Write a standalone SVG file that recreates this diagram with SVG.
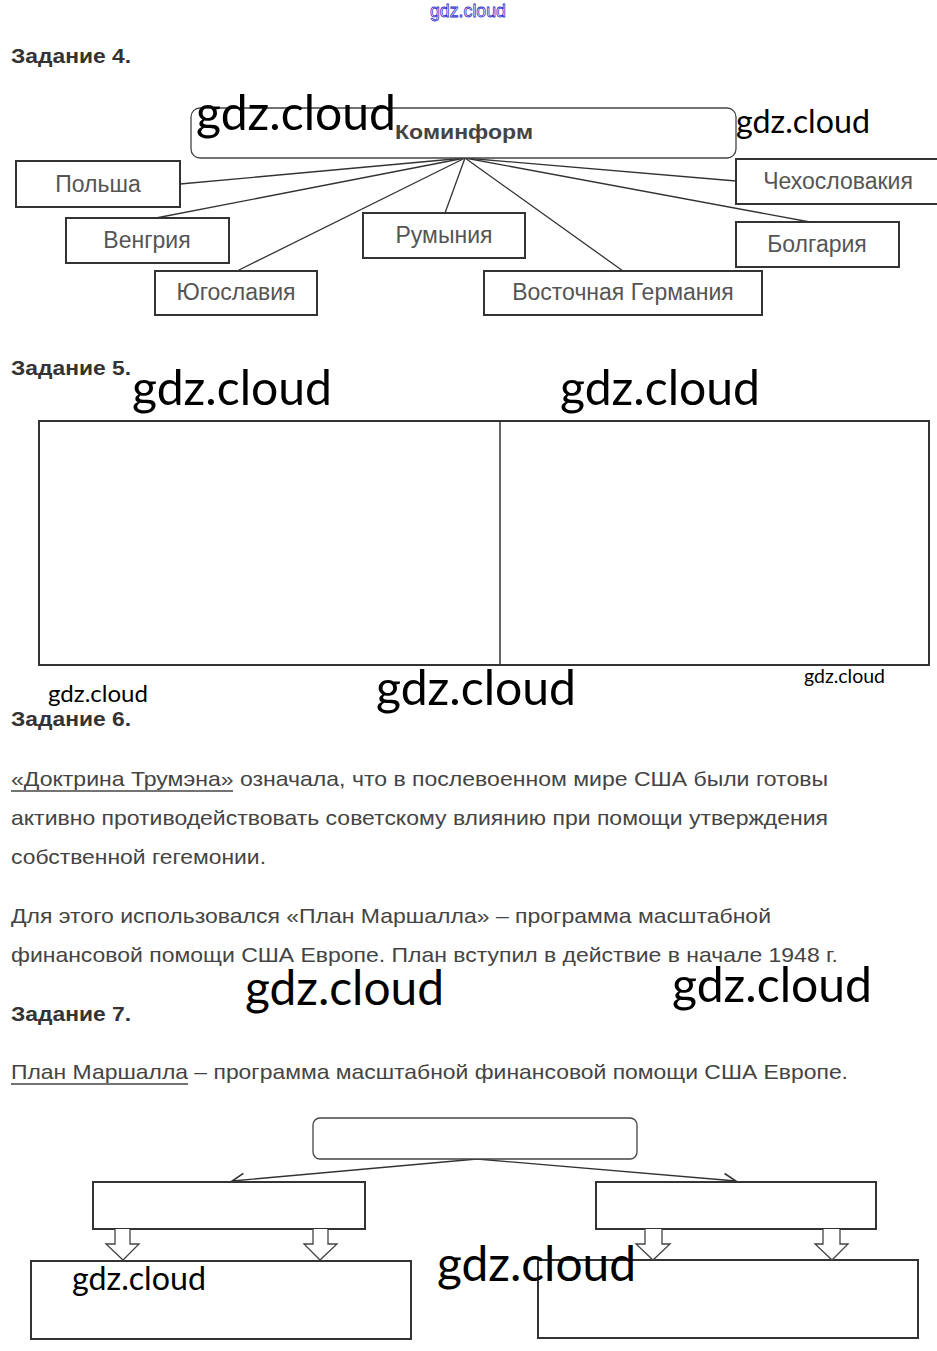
<svg xmlns="http://www.w3.org/2000/svg" width="937" height="1351" viewBox="0 0 937 1351">
<style>
.h{font-family:"Liberation Sans",Arial,sans-serif;font-weight:bold;font-size:20px;fill:#333}
.t{font-family:"Liberation Sans",Arial,sans-serif;font-size:21px;fill:#444}
.lb{font-family:"Liberation Sans",Arial,sans-serif;font-size:23px;fill:#555;text-anchor:middle}
.wm{font-family:Lato,"DejaVu Sans",sans-serif;fill:#000}
.box{fill:#fff;stroke:#333;stroke-width:2}
.ln{stroke:#333;stroke-width:1.3;fill:none}
.ba{fill:#fff;stroke:#444;stroke-width:1.3}
</style>
<defs>
<marker id="oa" markerWidth="16" markerHeight="16" refX="13" refY="8" orient="auto" markerUnits="userSpaceOnUse">
<path d="M1,1.5 L13,8 L1,14.5" fill="none" stroke="#333" stroke-width="1.6"/>
</marker>
</defs>
<rect width="937" height="1351" fill="#fff"/>
<text x="468" y="17" text-anchor="middle" font-family="Liberation Sans,Arial,sans-serif" font-size="18" fill="#fff" stroke="#3333cc" stroke-width="0.8" textLength="76" lengthAdjust="spacingAndGlyphs">gdz.cloud</text>

<text class="h" x="11" y="63" textLength="120" lengthAdjust="spacingAndGlyphs">Задание 4.</text>

<g id="connectors">
<line class="ln" x1="465" y1="158" x2="180" y2="184"/>
<line class="ln" x1="465" y1="158" x2="156" y2="218"/>
<line class="ln" x1="465" y1="158" x2="237" y2="271"/>
<line class="ln" x1="465" y1="158" x2="445" y2="213"/>
<line class="ln" x1="465" y1="158" x2="623" y2="271"/>
<line class="ln" x1="465" y1="158" x2="736" y2="181"/>
<line class="ln" x1="465" y1="158" x2="810" y2="222"/>
<line class="ln" x1="477" y1="1159" x2="232" y2="1181" marker-end="url(#oa)"/>
<line class="ln" x1="477" y1="1159" x2="736" y2="1181" marker-end="url(#oa)"/>
</g>

<g id="kominform">
<rect x="191" y="108" width="545" height="50" rx="9" fill="#fff" stroke="#444" stroke-width="1.3"/>
<text x="464" y="139" text-anchor="middle" font-family="Liberation Sans,Arial,sans-serif" font-weight="bold" font-size="20" fill="#444" textLength="138" lengthAdjust="spacingAndGlyphs">Коминформ</text>
</g>
<g id="polsha"><rect class="box" x="16" y="161" width="164" height="46"/><text class="lb" x="98" y="192">Польша</text></g>
<g id="vengriya"><rect class="box" x="66" y="218" width="163" height="45"/><text class="lb" x="147" y="248">Венгрия</text></g>
<g id="yugoslaviya"><rect class="box" x="155" y="271" width="162" height="44"/><text class="lb" x="236" y="300">Югославия</text></g>
<g id="rumyniya"><rect class="box" x="363" y="213" width="162" height="45"/><text class="lb" x="444" y="243">Румыния</text></g>
<g id="vost-germaniya"><rect class="box" x="484" y="271" width="278" height="44"/><text class="lb" x="623" y="300">Восточная Германия</text></g>
<g id="chehoslovakiya"><rect class="box" x="736" y="159" width="205" height="45"/><text class="lb" x="838" y="189">Чехословакия</text></g>
<g id="bolgariya"><rect class="box" x="736" y="222" width="163" height="45"/><text class="lb" x="817" y="252">Болгария</text></g>

<text class="wm" x="196" y="130" font-size="48" textLength="200" lengthAdjust="spacingAndGlyphs">gdz.cloud</text>
<text class="wm" x="736" y="133" font-size="32" textLength="134" lengthAdjust="spacingAndGlyphs">gdz.cloud</text>

<text class="h" x="11" y="375" textLength="120" lengthAdjust="spacingAndGlyphs">Задание 5.</text>
<text class="wm" x="132" y="405" font-size="48" textLength="200" lengthAdjust="spacingAndGlyphs">gdz.cloud</text>
<text class="wm" x="560" y="405" font-size="48" textLength="200" lengthAdjust="spacingAndGlyphs">gdz.cloud</text>

<g id="table5">
<rect x="39" y="421" width="890" height="244" fill="none" stroke="#333" stroke-width="2"/>
<line x1="500" y1="421" x2="500" y2="665" stroke="#333" stroke-width="1.5"/>
</g>

<text class="wm" x="48" y="702" font-size="24" textLength="100" lengthAdjust="spacingAndGlyphs">gdz.cloud</text>
<text class="wm" x="376" y="705" font-size="48" textLength="200" lengthAdjust="spacingAndGlyphs">gdz.cloud</text>
<text class="wm" x="804" y="683" font-size="19" textLength="81" lengthAdjust="spacingAndGlyphs">gdz.cloud</text>

<text class="h" x="11" y="726" textLength="120" lengthAdjust="spacingAndGlyphs">Задание 6.</text>

<text class="t" x="11" y="786" textLength="817" lengthAdjust="spacingAndGlyphs">«Доктрина Трумэна» означала, что в послевоенном мире США были готовы</text>
<line x1="11" y1="791" x2="233" y2="791" stroke="#444" stroke-width="1.3"/>
<text class="t" x="11" y="825" textLength="817" lengthAdjust="spacingAndGlyphs">активно противодействовать советскому влиянию при помощи утверждения</text>
<text class="t" x="11" y="864" textLength="255" lengthAdjust="spacingAndGlyphs">собственной гегемонии.</text>
<text class="t" x="11" y="923" textLength="760" lengthAdjust="spacingAndGlyphs">Для этого использовался «План Маршалла» – программа масштабной</text>
<text class="t" x="11" y="962" textLength="827" lengthAdjust="spacingAndGlyphs">финансовой помощи США Европе. План вступил в действие в начале 1948 г.</text>

<text class="wm" x="245" y="1005" font-size="48" textLength="199" lengthAdjust="spacingAndGlyphs">gdz.cloud</text>
<text class="wm" x="672" y="1002" font-size="48" textLength="200" lengthAdjust="spacingAndGlyphs">gdz.cloud</text>

<text class="h" x="11" y="1021" textLength="120" lengthAdjust="spacingAndGlyphs">Задание 7.</text>
<text class="t" x="11" y="1079" textLength="837" lengthAdjust="spacingAndGlyphs">План Маршалла – программа масштабной финансовой помощи США Европе.</text>
<line x1="11" y1="1084" x2="188" y2="1084" stroke="#444" stroke-width="1.3"/>

<g id="top7"><rect x="313" y="1118" width="324" height="41" rx="7" fill="#fff" stroke="#444" stroke-width="1.3"/></g>
<g id="left7"><rect class="box" x="93" y="1182" width="272" height="47"/></g>
<g id="right7"><rect class="box" x="596" y="1182" width="280" height="47"/></g>
<g id="bl7"><rect class="box" x="31" y="1261" width="380" height="78"/></g>
<g id="br7"><rect class="box" x="538" y="1260" width="380" height="78"/></g>

<g id="block-arrows">
<path class="ba" d="M115,1229 V1244 H106 L123,1260 L139,1244 H130 V1229"/>
<path class="ba" d="M313,1229 V1244 H304 L320,1260 L337,1244 H328 V1229"/>
<path class="ba" d="M645,1229 V1244 H636 L653,1260 L670,1244 H662 V1229"/>
<path class="ba" d="M823,1229 V1244 H815 L832,1260 L848,1244 H840 V1229"/>
</g>

<text class="wm" x="72" y="1290" font-size="32" textLength="134" lengthAdjust="spacingAndGlyphs">gdz.cloud</text>
<text class="wm" x="437" y="1281" font-size="48" textLength="199" lengthAdjust="spacingAndGlyphs">gdz.cloud</text>
</svg>
